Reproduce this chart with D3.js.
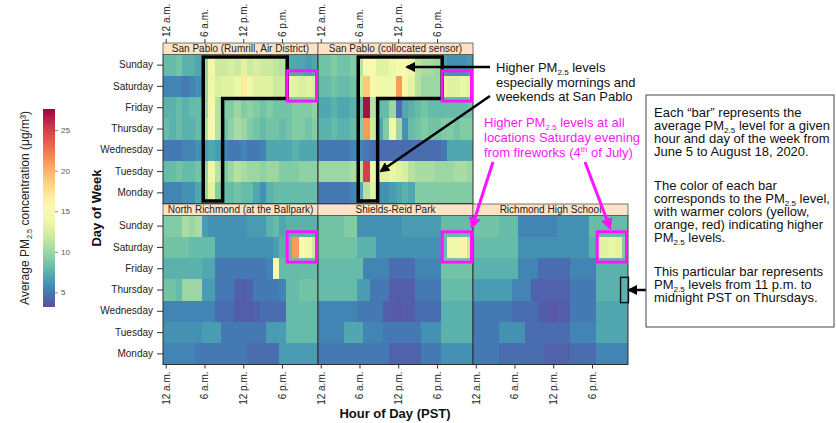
<!DOCTYPE html>
<html><head><meta charset="utf-8">
<script src="https://cdn.jsdelivr.net/npm/d3@7"></script>
<style>body{margin:0;background:#fff}svg{display:block;font-family:"Liberation Sans",Arial,sans-serif}</style>
</head><body>
<svg id="c" width="836" height="423"></svg>
<script>
// ---------- DATA ----------
const days = ["Sunday","Saturday","Friday","Thursday","Wednesday","Tuesday","Monday"];
const hours = [0,1,2,3,4,5,6,7,8,9,10,11,12,13,14,15,16,17,18,19,20,21,22,23];
const hourTicks = [0,6,12,18];
const hourTickLabels = ["12 a.m.","6 a.m.","12 p.m.","6 p.m."];
const stations = ["San Pablo (Rumrill, Air District)","San Pablo (collocated sensor)","North Richmond (at the Ballpark)","Shields-Reid Park","Richmond High School"];
const colorTicks = [5,10,15,20,25];
const colorDomain = [3.2, 27.6];

// rows in order Sunday..Monday, 24 hourly values (µg/m3)
const sanPabloAir = [
 [8,8,8.5,7.5,7.5,7,10,14,12,12,12.5,12,13,12,12.5,12,12,11.5,11,7,7,7,6.5,7],
 [5.5,5.5,5.5,5,5.5,6,10,14,12.5,13,13,13.5,17,14,13,13,13,12,12,13.5,13,12.5,13,12.5],
 [7.5,7.5,8,7.5,8,8,10,14.5,11,9,9,10,9,9.5,9,8.5,9,8.5,8.5,8.5,9,9,9,9.5],
 [8,7.5,8,7.5,7.5,8,11,15,11,8.5,9.5,10.5,10,9,8.5,8,8.5,8.5,8,8.5,9,9,8.5,9],
 [5,5,5,5.5,5.5,6,6.5,7,6.5,5.5,5,5,5.5,5,5,5.5,7,7,7,7,7.5,7,7,7],
 [8,8,8.5,8,8,8.5,10,14,11,9,10,11,10.5,10,10,9.5,10,10,9,9,9,9.5,9.5,9.5],
 [5.5,5.5,5.5,6,6,7,10,13,9,8,8,8.5,8,8,7,6,7.5,8,8,8,8,8,8,8]
];
const sanPabloSensor = [
 [8.5,8.5,9,8.5,8.5,9,11,15,15,13,13,14,14.5,15,14,11,10.5,10.5,10,6.5,6,6,6,6.5],
 [8,8,8.5,8,8,8.5,12,19,15,14,14,14,21,16,13,11,10,10,10,13.5,13,13,13.5,13],
 [7,7,7.5,7,7,7.5,8,27,11,8,8,10,4.5,7,7.5,8,8.5,8,8,8,8,8,8,8.5],
 [7.5,7.5,8,7.5,7.5,8,9,21,12,7,9,14,10,6,8,8.5,9,8.5,8.5,9,9,8.5,9,9],
 [5,5,5,5,5,5.5,5.5,5,4.5,4.5,4.5,4.5,4.5,4.5,4.5,4.5,4.5,4.5,4.5,5,7,7,7,7],
 [10,10,10,10,10,10.5,11,25,14,13,13,13.5,13,12.5,11,10.5,10.5,10.5,10,10,10,10.5,10.5,10],
 [5,5,5,5,5,5.5,7,11,13,6,6,6.5,7,7.5,7,9,9,9,9,9,9,9,9,9]
];
const northRichmond = [
 [9,9,9,10.5,10,10.5,6.5,6,6,6,6,6,6,6.5,6.5,6.5,7.5,8,7,7.5,7.5,7.5,7.5,7.5],
 [8.5,8.5,8.5,8.5,8,8,8,8,6,6,6,6,6,6,6,6,6,6.5,7.5,8,21,15,14,12],
 [7.5,7.5,7.5,7.5,7.5,7.5,7,7,5,5,5,5,5,5,5,5,5.5,15,8,8,8,8,8,8],
 [8.5,8.5,8,10,10,10,6.5,6.5,5,5,5,4,3.8,4,5,5,5,5,5.5,8,8,8.5,8.5,8.5],
 [5.5,5.5,5.5,5.5,5.5,5.5,5.5,5.5,4.5,4.5,4.5,3.8,3.8,3.8,4,4.5,4.5,4.5,4.5,8,8,8,8,8],
 [6,6,6,6,6,6,6.5,6.5,6.5,5,5,5,5,5,5,5,6.5,6.5,6.5,8,8,8,8,8],
 [5.5,5.5,5.5,5.5,5.5,5,5,5,5,5,5,5,5,4.5,4.5,4.5,4.5,4.5,6.5,6.5,6.5,6.5,6.5,6.5]
];
const shieldsReid = [
 [8.5,8.5,8.5,8.5,9,9,6,6,6,6,6,6,6,6.5,6.5,6.5,6.5,6.5,6.5,8,8,8,8,8],
 [8.5,8.5,8.5,8.5,8.5,8.5,7.5,7.5,7.5,6,6,6,6,6,6,6,6,6,6,8,14,14,16,12],
 [8,8,8,8,8,8,8,5.5,5.5,5.5,5.5,4.5,4.5,4.5,4.5,5.5,5.5,5.5,5.5,8.5,8.5,8.5,8.5,8.5],
 [8,8,8,8,8,8,6.5,6.5,5,5,5,3.8,3.8,3.8,3.8,5,5,5,5,8,8,8,8,8],
 [5.5,5.5,5.5,5.5,5.5,5.5,5,5,5,5,3.8,3.8,3.6,3.8,3.8,4.5,4.5,4.5,4.5,7.5,7.5,7.5,7.5,7.5],
 [5.5,5.5,5.5,5.5,7,7,7,5.5,5.5,5.5,5,5,5,5,5,5,6,6,6,7.5,7.5,7.5,7.5,7.5],
 [5,5,5,5,5,5,5,5,5,5,5,4,4,4,4,4,5,5,5,6,6,6,6,6]
];
const richmondHigh = [
 [8.5,8.5,8.5,8.5,8,8,8,5.5,5.5,5.5,5.5,5.5,5.5,6,6,6,6,6,8,8,8,8,8,8],
 [8,8,8,8,8,8,8,6,6,6,6,6,6,6,6,6,6,6,7.5,13,13,13.5,13,9],
 [7.5,7.5,7.5,7.5,7.5,7.5,7.5,5.5,5.5,5.5,4.5,4.5,4.5,4.5,4.5,5.5,5.5,5.5,5.5,7.5,7.5,7.5,7.5,7.5],
 [6.5,6.5,6.5,6.5,6.5,6.5,5.5,5.5,5.5,4,4,4,4,4,4,5,5,5,5,7.5,7.5,7.5,7.5,7.5],
 [5,5,5,5,5,5,4.5,4.5,4.5,4.5,3.8,3.8,3.5,3.8,3.8,5,5,5,5,7,7,7,7,7],
 [5,5,5,5,6,6,6,6,4.5,4.5,4.5,4.5,4.5,4.5,4.5,5.5,5.5,5.5,5.5,7,7,7,7,7],
 [5,5,5,5,4.5,4.5,4.5,4.5,4.5,4.5,4.5,4,4,4,4,4.5,4.5,4.5,4.5,5.5,5.5,5.5,5.5,5.5]
];
const panelData = [sanPabloAir, sanPabloSensor, northRichmond, shieldsReid, richmondHigh];
const panelPos = [[0,0],[1,0],[0,1],[1,1],[2,1]];

// ---------- LAYOUT ----------
const svg = d3.select("#c");
const colX = [163, 318, 473], panelW = 155;
const rowTop = [43, 204], stripH = 11.5, dataH = 149;
const color = d3.scaleSequential(t => d3.interpolateSpectral(1 - t)).domain(colorDomain);
const MAG = "#ff14ff";

const defs = svg.append("defs");
function arrowMarker(id, col) {
  defs.append("marker").attr("id", id).attr("viewBox", "0 0 10 10").attr("refX", 8).attr("refY", 5)
    .attr("markerWidth", 4).attr("markerHeight", 4).attr("orient", "auto")
    .append("path").attr("d", "M0,0 L10,5 L0,10 z").attr("fill", col);
}
arrowMarker("ab", "#000"); arrowMarker("am", MAG);

function rich(g, x, y, parts, size, fill, extra) {
  const t = g.append("text").attr("x", x).attr("y", y).attr("font-size", size).attr("fill", fill);
  if (extra) extra(t);
  let shifted = 0;
  parts.forEach(p => {
    if (typeof p === "string") {
      t.append("tspan").attr("dy", -shifted).text(p); shifted = 0;
    } else if (p.sub) {
      const d = size * 0.22;
      t.append("tspan").attr("dy", d - shifted).attr("font-size", size * 0.62).text(p.sub); shifted = d;
    } else if (p.sup) {
      const d = -size * 0.35;
      t.append("tspan").attr("dy", d - shifted).attr("font-size", size * 0.6).text(p.sup); shifted = d;
    }
  });
  return t;
}

const scales = [];
panelData.forEach((data, i) => {
  const [c, r] = panelPos[i];
  const x0 = colX[c], y0 = rowTop[r];
  const x = d3.scaleBand().domain(hours).range([x0, x0 + panelW]);
  const y = d3.scaleBand().domain(days).range([y0 + stripH, y0 + stripH + dataH]);
  scales.push({x, y});
  const g = svg.append("g");
  days.forEach((d, di) => {
    g.selectAll(null).data(data[di]).join("rect")
      .attr("x", (v, h) => x(hours[h])).attr("y", y(d))
      .attr("width", x.bandwidth() + 0.4).attr("height", y.bandwidth() + 0.4)
      .attr("fill", v => color(v)).attr("shape-rendering", "crispEdges");
  });
  g.append("rect").attr("x", x0).attr("y", y0 + stripH).attr("width", panelW).attr("height", dataH)
    .attr("fill", "none").attr("stroke", "#2f2f2f").attr("stroke-width", 1);
  // strip
  g.append("rect").attr("x", x0).attr("y", y0).attr("width", panelW).attr("height", stripH)
    .attr("fill", "#fde3c6").attr("stroke", "#555").attr("stroke-width", 0.8);
  g.append("text").attr("x", x0 + panelW / 2).attr("y", y0 + stripH - 2.3).attr("text-anchor", "middle")
    .attr("font-size", 10).attr("fill", "#222").text(stations[i]);
  // axes
  if (r === 0) {
    const ax = svg.append("g").attr("transform", `translate(0,${y0})`)
      .call(d3.axisTop(x).tickValues(hourTicks).tickSize(4).tickFormat(h => hourTickLabels[hourTicks.indexOf(h)]));
    ax.select(".domain").remove();
    ax.selectAll("line").attr("stroke", "#333");
    ax.selectAll("text").attr("transform", "rotate(-90)").attr("x", 6).attr("y", 0).attr("dy", "0.35em")
      .attr("text-anchor", "start").attr("font-size", 10).attr("fill", "#222").attr("font-family", null);
  }
  if (r === 1) {
    const ax = svg.append("g").attr("transform", `translate(0,${y0 + stripH + dataH})`)
      .call(d3.axisBottom(x).tickValues(hourTicks).tickSize(4).tickFormat(h => hourTickLabels[hourTicks.indexOf(h)]));
    ax.select(".domain").remove();
    ax.selectAll("line").attr("stroke", "#333");
    ax.selectAll("text").attr("transform", "rotate(-90)").attr("x", -7).attr("y", 0).attr("dy", "0.35em")
      .attr("text-anchor", "end").attr("font-size", 10).attr("fill", "#222").attr("font-family", null);
  }
  if (c === 0) {
    const ay = svg.append("g").attr("transform", `translate(${x0},0)`)
      .call(d3.axisLeft(y).tickSize(6).tickPadding(4));
    ay.select(".domain").remove();
    ay.selectAll("line").attr("stroke", "#333");
    ay.selectAll("text").attr("font-size", 10).attr("fill", "#222").attr("font-family", null);
  }
});

// axis titles
svg.append("text").attr("x", 395).attr("y", 418).attr("text-anchor", "middle")
  .attr("font-size", 13).attr("font-weight", "bold").attr("fill", "#111").text("Hour of Day (PST)");
svg.append("text").attr("transform", "translate(101,208) rotate(-90)").attr("text-anchor", "middle")
  .attr("font-size", 13).attr("font-weight", "bold").attr("fill", "#111").text("Day of Week");

// colorbar
const cbY = d3.scaleLinear().domain(colorDomain).range([307, 109]);
const grad = defs.append("linearGradient").attr("id", "cbg").attr("x1", 0).attr("y1", 1).attr("x2", 0).attr("y2", 0);
d3.range(0, 1.0001, 0.05).forEach(t => grad.append("stop").attr("offset", t)
  .attr("stop-color", color(colorDomain[0] + t * (colorDomain[1] - colorDomain[0]))));
svg.append("rect").attr("x", 43).attr("y", cbY(colorDomain[1])).attr("width", 12)
  .attr("height", cbY(colorDomain[0]) - cbY(colorDomain[1])).attr("fill", "url(#cbg)");
const cbAx = svg.append("g").attr("transform", "translate(55,0)")
  .call(d3.axisRight(cbY).tickValues(colorTicks).tickSize(3).tickPadding(3));
cbAx.select(".domain").remove();
cbAx.selectAll("line").attr("stroke", "#888");
cbAx.selectAll("text").attr("font-size", 8).attr("fill", "#555").attr("font-family", null);
rich(svg, 0, 0, ["Average PM", {sub: "2.5"}, " concentration (μg/m³)"], 12, "#222",
  t => t.attr("transform", "translate(29,208) rotate(-90)").attr("text-anchor", "middle"));

// ---------- ANNOTATIONS ----------
const ann = svg.append("g");
// black outlines of morning/weekend region (San Pablo panels)
[0, 1].forEach(i => {
  const {x, y} = scales[i];
  const L = x(6) + 1.5, M = x(9) + 1.5, R = x(19) + 1.5;
  const T = y("Sunday") + 2.5, S = y("Saturday") + y.bandwidth() + 1.5, B = y("Monday") + y.bandwidth() - 2.5;
  ann.append("path").attr("d", `M${L},${T} L${R},${T} L${R},${S} L${M},${S} L${M},${B} L${L},${B} Z`)
    .attr("fill", "none").attr("stroke", "#000").attr("stroke-width", 3.5).attr("stroke-linejoin", "miter");
});
// magenta boxes: Saturday 7 p.m.–midnight
[0, 1, 2, 3, 4].forEach(i => {
  const {x, y} = scales[i];
  ann.append("rect").attr("x", x(19) + 1.5).attr("y", y("Saturday") - 5)
    .attr("width", x(23) + x.bandwidth() - x(19) - 3).attr("height", y.bandwidth() + 9)
    .attr("fill", "none").attr("stroke", MAG).attr("stroke-width", 3);
});
// Thursday 11 p.m. bar box
{
  const {x, y} = scales[4];
  ann.append("rect").attr("x", x(23) - 1).attr("y", y("Thursday") - 2)
    .attr("width", x.bandwidth() + 1.5).attr("height", y.bandwidth() + 4)
    .attr("fill", "none").attr("stroke", "#111").attr("stroke-width", 1.4);
}
// black arrows
ann.append("line").attr("x1", 490).attr("y1", 67).attr("x2", 407).attr("y2", 67)
  .attr("stroke", "#000").attr("stroke-width", 2.5).attr("marker-end", "url(#ab)");
ann.append("line").attr("x1", 490).attr("y1", 96).attr("x2", 381).attr("y2", 171)
  .attr("stroke", "#000").attr("stroke-width", 2.5).attr("marker-end", "url(#ab)");
ann.append("line").attr("x1", 646).attr("y1", 290).attr("x2", 629).attr("y2", 290)
  .attr("stroke", "#000").attr("stroke-width", 2.5).attr("marker-end", "url(#ab)");
// magenta arrows
ann.append("line").attr("x1", 493).attr("y1", 162).attr("x2", 472).attr("y2", 227)
  .attr("stroke", MAG).attr("stroke-width", 3).attr("marker-end", "url(#am)");
ann.append("line").attr("x1", 585).attr("y1", 162).attr("x2", 610).attr("y2", 228)
  .attr("stroke", MAG).attr("stroke-width", 3).attr("marker-end", "url(#am)");

// black annotation text
rich(ann, 496, 72, ["Higher PM", {sub: "2.5"}, " levels"], 13, "#111");
rich(ann, 496, 87, ["especially mornings and"], 13, "#111");
rich(ann, 496, 101, ["weekends at San Pablo"], 13, "#111");
// magenta text
rich(ann, 484, 127, ["Higher PM", {sub: "2.5"}, " levels at all"], 13, MAG);
rich(ann, 484, 142, ["locations Saturday evening"], 13, MAG);
rich(ann, 484, 157, ["from fireworks (4", {sup: "th"}, " of July)"], 13, MAG);

// explanation box
ann.append("rect").attr("x", 646).attr("y", 95).attr("width", 188).attr("height", 232)
  .attr("fill", "#fff").attr("stroke", "#444").attr("stroke-width", 1);
const boxLines = [
  [117, ["Each “bar” represents the"]],
  [130, ["average PM", {sub: "2.5"}, " level for a given"]],
  [143, ["hour and day of the week from"]],
  [156, ["June 5 to August 18, 2020."]],
  [190, ["The color of each bar"]],
  [203, ["corresponds to the PM", {sub: "2.5"}, " level,"]],
  [216, ["with warmer colors (yellow,"]],
  [229, ["orange, red) indicating higher"]],
  [242, ["PM", {sub: "2.5"}, " levels."]],
  [276, ["This particular bar represents"]],
  [289, ["PM", {sub: "2.5"}, " levels from 11 p.m. to"]],
  [302, ["midnight PST on Thursdays."]]
];
boxLines.forEach(([yy, parts]) => rich(ann, 654, yy, parts, 13, "#111"));
</script>
</body></html>
